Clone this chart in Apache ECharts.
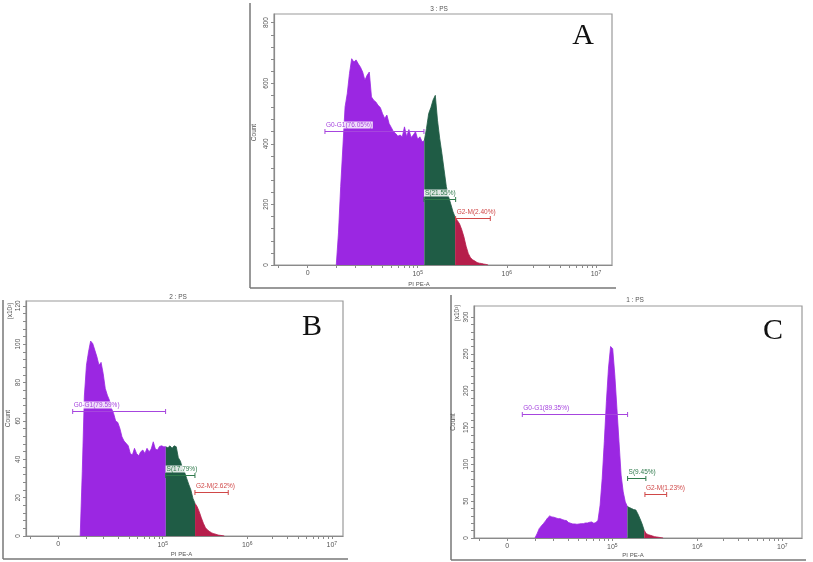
<!DOCTYPE html>
<html><head><meta charset="utf-8">
<script src="https://cdn.jsdelivr.net/npm/echarts@6/dist/echarts.min.js"></script>
<style>html,body{margin:0;padding:0;background:#fff}#c{width:813px;height:562px}</style>
</head><body><div id="c"></div>
<script>
// ---- data (x in display units: 0 -> "0", 1 -> 10^5, 1.81 -> 10^6, 2.62 -> 10^7) ----
const binStep = 0.02;
const binStartA = 0.26;
const binStartB = 0.21;
const binStartC = 0.264;
const countsA = [0,106,259,390,522,566,632,681,670,677,664,653,637,610,626,637,555,544,538,527,520,500,484,495,467,454,440,434,425,429,423,456,423,447,421,429,440,415,423,407,410,
  451,500,520,545,560,478,418,368,314,259,226,202,177,158,
  147,136,117,93,62,38,24,17,13,8,6,5,3,2,0];
const countsB = [0,33.5,73,89,96,101.6,100.3,96.9,93.4,89,90.5,84.7,76.9,73.4,70.8,66.5,63.9,59.9,59.2,56.1,51.7,49.5,48.3,47,43,42.2,45.7,43,41.8,43.9,44.8,43,45.7,43.9,45.3,49.1,45.3,44.8,46.7,47,46.5,46.5,
  46,47,45.7,47,46.5,40.8,39,35.2,33.2,30,26.9,24,19.6,17,
  15.3,12.7,9.5,6.6,4.3,3.1,2.3,1.6,1.2,0.9,0.5,0.35,0.2,0];
const countsC = [0,5.9,12.7,16.3,19.5,23.2,27.2,30,28.6,28.2,27.2,26.3,26.3,25,24.1,23.6,20.9,20,19.1,19.1,18.6,19.1,19.5,19.5,20.4,20.4,21.3,21.8,20,20.9,24.1,44.5,80.8,130.8,185.3,230.7,260,257,221.6,176.2,130.8,85.4,62.7,49,42.7,
  41.3,40,38.6,38.1,32.7,26.3,19.1,10.4,
  5.9,4.5,3.6,2.7,1.8,1.4,0.9,0.5,0];
// phase boundaries (purple|green, green|red)
const splitA = [1.06, 1.34];
const splitB = [1.03, 1.31];
const splitC = [1.144, 1.304];
// gates: [from, to, level, label]
const gatesA = [[0.157,1.057,442,'G0-G1(76.05%)'],[1.057,1.345,217,'S(21.55%)'],[1.345,1.66,155,'G2-M(2.40%)']];
const gatesB = [[0.138,1.028,65.3,'G0-G1(79.59%)'],[1.028,1.309,31.8,'S(17.79%)'],[1.309,1.628,22.7,'G2-M(2.62%)']];
const gatesC = [[0.143,1.146,169,'G0-G1(89.35%)'],[1.146,1.32,82,'S(9.45%)'],[1.311,1.518,59.5,'G2-M(1.23%)']];
const panelTitles = ['3 : PS','2 : PS','1 : PS'];
const panelLetters = ['A','B','C'];
const xTickValues = [0, 1, 1.81, 2.62];
const xTickLabels = ['0', '10{s|5}', '10{s|6}', '10{s|7}'];
const yLabelsA = [0,200,400,600,800];
const yLabelsB = [0,20,40,60,80,100,120];
const yLabelsC = [0,50,100,150,200,250,300];
const yMinorA = 40, yMinorB = 4, yMinorC = 10;
const yName = 'Count';
const xName = 'PI PE-A';
const scaleNote = '(x10³)';

// ---- styling / layout ----
const phaseFill = ['#9B27E2', '#1F5C45', '#B61E4B'];
const gateCol = ['#A645DE', '#2F7A4C', '#D04848'];
const axisCol = '#8a8a8a';
const txtCol = '#555';
const FONT = '"Liberation Sans", Arial, sans-serif';

const panels = [
  {grid:{left:274, top:14, width:338, height:251}, xmin:-0.306, xmax:2.766, ymax:828.6,
   counts:countsA, start:binStartA, split:splitA, gates:gatesA, yl:yLabelsA, ym:yMinorA,
   yGap:16, xGap:16, xPad:[0,48,0,0], yPad:[0,0,0,14]},
  {grid:{left:26, top:301, width:317, height:235}, xmin:-0.309, xmax:2.727, ymax:122.5,
   counts:countsB, start:binStartB, split:splitB, gates:gatesB, yl:yLabelsB, ym:yMinorB,
   yGap:14, xGap:15.5, xPad:[0,6,0,0], yPad:[0,0,0,0]},
  {grid:{left:474, top:306, width:328, height:232}, xmin:-0.317, xmax:2.807, ymax:315,
   counts:countsC, start:binStartC, split:splitC, gates:gatesC, yl:yLabelsC, ym:yMinorC,
   yGap:17.5, xGap:14, xPad:[0,10,0,0], yPad:[0,0,0,0]}
];

// x minor ticks (log-style decoration of the axis)
function xTicks(){
  const t = xTickValues.slice();
  t.push(-0.27, 0.264);
  const dec = xTickValues[2] - xTickValues[1];
  for (let d = 0; d < 3; d++) {
    const base = d === 0 ? 1 : xTickValues[d+1];
    for (let k = 2; k <= 9; k++) {
      const v = d === 0 ? 1 + dec*Math.log10(k/10) : base + dec*Math.log10(k);
      t.push(v);
    }
  }
  return t;
}
const xTickAll = xTicks();

const grids = [], xAxes = [], yAxes = [], series = [];
panels.forEach((p, gi) => {
  grids.push(Object.assign({show:true, borderColor:'#9a9a9a', borderWidth:1.2, backgroundColor:'transparent'}, p.grid));
  xAxes.push({
    type:'value', gridIndex:gi, min:p.xmin, max:p.xmax,
    axisLine:{show:true, onZero:false, lineStyle:{color:axisCol, width:1.2}},
    splitLine:{show:false},
    axisTick:{show:true, inside:false, length:3, customValues:xTickAll.filter(v=>v>p.xmin && v<p.xmax), lineStyle:{color:axisCol}},
    axisLabel:{show:true, customValues:xTickValues, margin:5, color:txtCol, fontSize:7, fontFamily:FONT,
      formatter:(v)=>{ const i = xTickValues.findIndex(t=>Math.abs(t-v)<1e-6); return i>=0 ? xTickLabels[i] : ''; },
      rich:{s:{fontSize:5, verticalAlign:'bottom', padding:[0,0,4,0], color:txtCol}}},
    name:xName, nameLocation:'middle', nameGap:p.xGap,
    nameTextStyle:{fontSize:6, color:txtCol, fontFamily:FONT, padding:p.xPad}
  });
  const minors = [];
  for (let v = 0; v <= p.yl[p.yl.length-1] + 1e-9; v += p.ym) minors.push(+v.toFixed(6));
  yAxes.push({
    type:'value', gridIndex:gi, min:0, max:p.ymax,
    axisLine:{show:true, onZero:false, lineStyle:{color:axisCol, width:1.2}},
    splitLine:{show:false},
    axisTick:{show:true, inside:false, length:3, customValues:minors, lineStyle:{color:axisCol}},
    axisLabel:{show:true, customValues:p.yl, rotate:90, margin:4, color:txtCol, fontSize:6.5, fontFamily:FONT},
    name:yName, nameLocation:'middle', nameRotate:90, nameGap:p.yGap,
    nameTextStyle:{fontSize:6.5, color:txtCol, fontFamily:FONT, padding:p.yPad}
  });
  const pts = p.counts.map((c,i)=>[+(p.start + i*binStep).toFixed(4), c]);
  const eps = 1e-6;
  const segs = [
    pts.filter(d=>d[0] <= p.split[0]+eps),
    pts.filter(d=>d[0] >= p.split[0]-eps && d[0] <= p.split[1]+eps),
    pts.filter(d=>d[0] >= p.split[1]-eps)
  ];
  segs.forEach((seg, si) => {
    series.push({type:'line', xAxisIndex:gi, yAxisIndex:gi, data:seg, symbol:'none', smooth:false,
      lineStyle:{color:phaseFill[si], width:0.8}, areaStyle:{color:phaseFill[si], opacity:1},
      itemStyle:{color:phaseFill[si]}, z:2, silent:true, animation:false, clip:true});
  });
  const gates = p.gates;
  series.push({
    type:'custom', xAxisIndex:gi, yAxisIndex:gi, z:10, silent:true, animation:false,
    data: gates.map((g,i)=>[g[0], g[1], g[2], i]),
    renderItem:(params, api)=>{
      const i = api.value(3);
      const a = api.coord([api.value(0), api.value(2)]);
      const b = api.coord([api.value(1), api.value(2)]);
      const y = Math.round(a[1]) + 0.5;
      const col = gateCol[i];
      return {type:'group', children:[
        {type:'line', shape:{x1:a[0], y1:y, x2:b[0], y2:y}, style:{stroke:col, lineWidth:1}},
        {type:'line', shape:{x1:a[0], y1:y-2.5, x2:a[0], y2:y+2.5}, style:{stroke:col, lineWidth:1}},
        {type:'line', shape:{x1:b[0], y1:y-2.5, x2:b[0], y2:y+2.5}, style:{stroke:col, lineWidth:1}},
        {type:'text', x:a[0], y:y-3, style:{text:gates[i][3], fill:col, font:'6.5px '+FONT,
          textAlign:'left', align:'left', textVerticalAlign:'bottom', verticalAlign:'bottom',
          backgroundColor:'rgba(255,255,255,0.85)', padding:[0,1,0,1]}}
      ]};
    }
  });
});

// ---- decorations ----
const frameLines = [
  [250,3,250,288],[250,288,616,288],
  [3,300,3,559],[3,559,348,559],
  [451,295,451,560],[451,560,806,560]
];
const titlePos = [[439,9],[178,297],[635,300]];
const letterPos = [[583,36],[312,327],[773,331]];
const notePos = [[10,311],[457,313]];
const graphics = [];
frameLines.forEach(l=>graphics.push({type:'line', shape:{x1:l[0],y1:l[1],x2:l[2],y2:l[3]}, style:{stroke:'#777', lineWidth:1.5}, silent:true}));
panelTitles.forEach((t,i)=>graphics.push({type:'text', x:titlePos[i][0], y:titlePos[i][1],
  style:{text:t, fill:'#555', font:'6.5px '+FONT, textAlign:'center', align:'center', textVerticalAlign:'middle', verticalAlign:'middle'}}));
panelLetters.forEach((t,i)=>graphics.push({type:'text', x:letterPos[i][0], y:letterPos[i][1],
  style:{text:t, fill:'#111', font:'30px "Liberation Serif", "Times New Roman", serif', textAlign:'center', align:'center', textVerticalAlign:'middle', verticalAlign:'middle'}}));
notePos.forEach(pp=>graphics.push({type:'text', x:pp[0], y:pp[1], rotation:Math.PI/2,
  style:{text:scaleNote, fill:'#555', font:'6.5px '+FONT, textAlign:'center', align:'center', textVerticalAlign:'middle', verticalAlign:'middle'}}));

const chart = echarts.init(document.getElementById('c'), null, {renderer:'canvas', width:813, height:562});
chart.setOption({
  animation:false,
  backgroundColor:'#ffffff',
  grid:grids, xAxis:xAxes, yAxis:yAxes, series:series,
  graphic:graphics
});
</script>
</body></html>
